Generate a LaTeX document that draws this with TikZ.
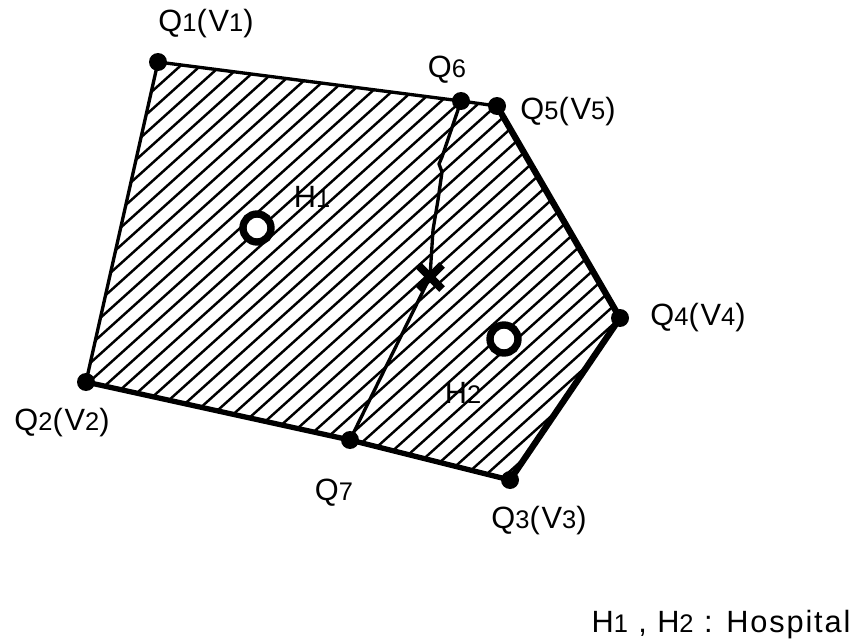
\documentclass[tikz,border=0pt]{standalone}
\usepackage{fontspec}
\setmainfont{Liberation Sans}[LetterSpace=6]
\usetikzlibrary{positioning,calc}

\newcommand{\dg}[1]{{\fontsize{14.5}{15}\selectfont #1}}

\begin{document}
\begin{tikzpicture}[x=0.02cm, y=-0.02cm,
  lbl/.style={font=\fontsize{17.5}{19}\selectfont, inner sep=0pt},
  hatch/.style={line width=1.4pt},
  thinedge/.style={line width=1.9pt},
  thickedge/.style={line width=3.6pt, line cap=round},
  dot/.style={circle, fill=black, inner sep=0pt, minimum size=0.36cm},
  hosp/.style={circle, draw, fill=white, line width=4.2pt, inner sep=0pt, minimum size=0.56cm}]
\useasboundingbox (0,0) rectangle (859,642);

% Vertices of the region
\coordinate (q1) at (158,62);
\coordinate (q6) at (461,101);
\coordinate (q5) at (497,106);
\coordinate (q4) at (620,318);
\coordinate (q3) at (510,480);
\coordinate (q7) at (350,440);
\coordinate (q2) at (86,382);
\coordinate (xm) at (430,277);

% Hatching
\begin{scope}
\clip (q1) -- (q6) -- (q5) -- (q4) -- (q3) -- (q7) -- (q2) -- cycle;
\foreach \c in {-482,-462,...,718}
  \draw[hatch] (\c,500) -- ++(560,-504);
\end{scope}

% Boundary
\draw[thinedge] (q2) -- (q1) -- (q6) -- (q5);
\draw[line width=3pt] (q2) -- (q7) -- (q3);
\draw[thickedge] (q5) -- (q4) -- (q3);

% Dividing line Q6 - Q7
\draw[thinedge, line join=round] (q6) -- (442,157) -- (439,164) -- (442,172) -- (438,200)
  -- (433,230) -- (xm) -- (q7);

% Cross mark
\draw[line width=4.5pt] ($(xm)+(-12,-12)$) -- ($(xm)+(12,12)$);
\draw[line width=4.5pt] ($(xm)+(-12,12)$) -- ($(xm)+(12,-12)$);

% Points
\foreach \p in {q1,q2,q3,q4,q5,q6,q7}
  \node[dot] (d\p) at (\p) {};

% Hospitals
\node[hosp] (h1) at (257,228) {};
\node[hosp] (h2) at (504,339) {};

% Labels
\node[lbl] (lq1) at (206,24) {Q\dg{1}(V\dg{1})};
\node[lbl] (lq6) at (447,70) {Q\dg{6}};
\node[lbl] (lq5) at (568,112) {Q\dg{5}(V\dg{5})};
\node[lbl] (lq4) at (698,318) {Q\dg{4}(V\dg{4})};
\node[lbl] (lq3) at (539,521) {Q\dg{3}(V\dg{3})};
\node[lbl] (lq7) at (334,493) {Q\dg{7}};
\node[lbl] (lq2) at (62,423) {Q\dg{2}(V\dg{2})};
\node[lbl] (lh1) at (312,197) {H\dg{1}};
\node[lbl] (lh2) at (463,393) {H\dg{2}};
\node[lbl] (key) at (721,625) {H\dg{1} , H\dg{2} : Hospital};
\end{tikzpicture}
\end{document}
